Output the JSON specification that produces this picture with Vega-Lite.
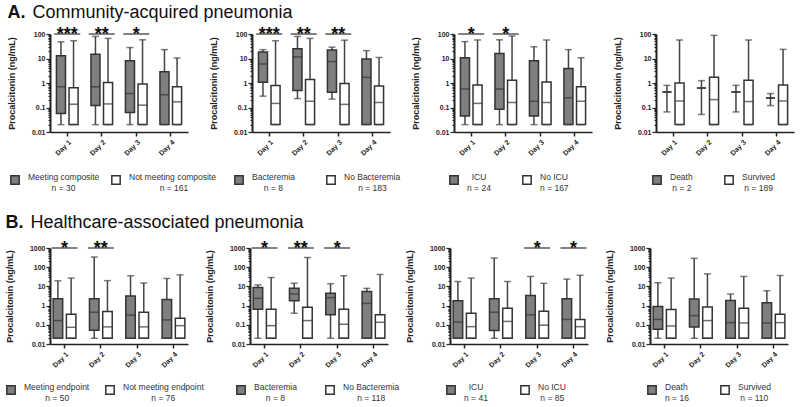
{
  "$schema": "https://vega.github.io/schema/vega-lite/v6.json",
  "padding": {"left": 5, "top": 4, "right": 2, "bottom": 2},
  "background": "white",
  "config": {
    "font": "Liberation Sans",
    "view": {"stroke": null},
    "axis": {"grid": false, "domainColor": "#222", "tickColor": "#222", "labelColor": "#222", "titleColor": "#222", "labelFont": "Liberation Sans", "titleFont": "Liberation Sans"},
    "axisX": {"labelAngle": -45, "labelFontSize": 7, "labelFontWeight": "bold", "domainWidth": 1.5, "tickSize": 4, "tickWidth": 1.5, "labelPadding": 2},
    "axisY": {"labelFontSize": 7, "labelFontWeight": "bold", "titleFontSize": 9, "titleFontWeight": "bold", "titlePadding": 15, "domainWidth": 2, "tickWidth": 1.2, "labelPadding": 1},
    "bar": {"stroke": "#333", "strokeWidth": 1.5},
    "rule": {"color": "#444", "strokeWidth": 1.5},
    "tick": {"color": "#333", "thickness": 1.5},
    "legend": {"symbolType": "square", "symbolSize": 70, "symbolStrokeColor": "#333", "symbolStrokeWidth": 1.5, "labelFontSize": 8.5, "labelColor": "#333", "labelFont": "Liberation Sans", "labelOffset": 8, "labelBaseline": "alphabetic", "direction": "horizontal", "orient": "none", "padding": 0, "labelLimit": 250},
    "title": {"font": "Liberation Sans", "anchor": "start", "color": "#111"}
  },
  "datasets": {
    "A1": [
      {"day": "Day 1", "group": "Meeting composite", "min": 0.02, "q1": 0.057, "median": 0.7, "q3": 13, "max": 48},
      {"day": "Day 1", "group": "Not meeting composite", "min": 0.02, "q1": 0.02, "median": 0.136, "q3": 0.64, "max": 53},
      {"day": "Day 2", "group": "Meeting composite", "min": 0.02, "q1": 0.12, "median": 0.7, "q3": 15, "max": 80},
      {"day": "Day 2", "group": "Not meeting composite", "min": 0.02, "q1": 0.02, "median": 0.14, "q3": 1.05, "max": 66},
      {"day": "Day 3", "group": "Meeting composite", "min": 0.02, "q1": 0.063, "median": 0.37, "q3": 8.1, "max": 28},
      {"day": "Day 3", "group": "Not meeting composite", "min": 0.02, "q1": 0.02, "median": 0.125, "q3": 0.9, "max": 58},
      {"day": "Day 4", "group": "Meeting composite", "min": 0.02, "q1": 0.02, "median": 0.33, "q3": 2.9, "max": 23},
      {"day": "Day 4", "group": "Not meeting composite", "min": 0.02, "q1": 0.02, "median": 0.17, "q3": 0.7, "max": 10.5}
    ],
    "A2": [
      {"day": "Day 1", "group": "Bacteremia", "min": 0.29, "q1": 1.07, "median": 6, "q3": 18.5, "max": 23},
      {"day": "Day 1", "group": "No Bacteremia", "min": 0.02, "q1": 0.02, "median": 0.147, "q3": 0.79, "max": 53},
      {"day": "Day 2", "group": "Bacteremia", "min": 0.23, "q1": 0.5, "median": 11.6, "q3": 25, "max": 80},
      {"day": "Day 2", "group": "No Bacteremia", "min": 0.02, "q1": 0.02, "median": 0.18, "q3": 1.38, "max": 66},
      {"day": "Day 3", "group": "Bacteremia", "min": 0.22, "q1": 0.42, "median": 7.5, "q3": 22, "max": 29},
      {"day": "Day 3", "group": "No Bacteremia", "min": 0.02, "q1": 0.02, "median": 0.134, "q3": 0.95, "max": 56},
      {"day": "Day 4", "group": "Bacteremia", "min": 0.02, "q1": 0.02, "median": 1.7, "q3": 9.6, "max": 21},
      {"day": "Day 4", "group": "No Bacteremia", "min": 0.02, "q1": 0.02, "median": 0.16, "q3": 0.75, "max": 11}
    ],
    "A3": [
      {"day": "Day 1", "group": "ICU", "min": 0.02, "q1": 0.045, "median": 0.57, "q3": 10.7, "max": 49},
      {"day": "Day 1", "group": "No ICU", "min": 0.02, "q1": 0.02, "median": 0.147, "q3": 0.83, "max": 57},
      {"day": "Day 2", "group": "ICU", "min": 0.02, "q1": 0.085, "median": 0.57, "q3": 16, "max": 58},
      {"day": "Day 2", "group": "No ICU", "min": 0.02, "q1": 0.02, "median": 0.16, "q3": 1.3, "max": 83},
      {"day": "Day 3", "group": "ICU", "min": 0.02, "q1": 0.045, "median": 0.18, "q3": 8, "max": 30},
      {"day": "Day 3", "group": "No ICU", "min": 0.02, "q1": 0.02, "median": 0.16, "q3": 1.1, "max": 57},
      {"day": "Day 4", "group": "ICU", "min": 0.02, "q1": 0.02, "median": 0.25, "q3": 3.9, "max": 23},
      {"day": "Day 4", "group": "No ICU", "min": 0.02, "q1": 0.02, "median": 0.18, "q3": 0.7, "max": 10.8}
    ],
    "A4": [
      {"day": "Day 1", "group": "Death", "min": 0.066, "q1": 0.43, "median": 0.43, "q3": 0.43, "max": 0.8},
      {"day": "Day 1", "group": "Survived", "min": 0.02, "q1": 0.02, "median": 0.185, "q3": 1.0, "max": 57},
      {"day": "Day 2", "group": "Death", "min": 0.052, "q1": 0.62, "median": 0.62, "q3": 0.62, "max": 1.25},
      {"day": "Day 2", "group": "Survived", "min": 0.02, "q1": 0.02, "median": 0.21, "q3": 1.7, "max": 88},
      {"day": "Day 3", "group": "Death", "min": 0.066, "q1": 0.43, "median": 0.43, "q3": 0.43, "max": 0.8},
      {"day": "Day 3", "group": "Survived", "min": 0.02, "q1": 0.02, "median": 0.175, "q3": 1.28, "max": 57},
      {"day": "Day 4", "group": "Death", "min": 0.12, "q1": 0.245, "median": 0.245, "q3": 0.245, "max": 0.37},
      {"day": "Day 4", "group": "Survived", "min": 0.02, "q1": 0.02, "median": 0.185, "q3": 0.82, "max": 23.6}
    ],
    "B1": [
      {"day": "Day 1", "group": "Meeting endpoint", "min": 0.02, "q1": 0.02, "median": 0.166, "q3": 2.3, "max": 19.5},
      {"day": "Day 1", "group": "Not meeting endpoint", "min": 0.02, "q1": 0.02, "median": 0.074, "q3": 0.35, "max": 27},
      {"day": "Day 2", "group": "Meeting endpoint", "min": 0.02, "q1": 0.052, "median": 0.45, "q3": 2.3, "max": 340},
      {"day": "Day 2", "group": "Not meeting endpoint", "min": 0.02, "q1": 0.02, "median": 0.078, "q3": 0.5, "max": 20},
      {"day": "Day 3", "group": "Meeting endpoint", "min": 0.02, "q1": 0.02, "median": 0.32, "q3": 3.2, "max": 36},
      {"day": "Day 3", "group": "Not meeting endpoint", "min": 0.02, "q1": 0.02, "median": 0.078, "q3": 0.45, "max": 15},
      {"day": "Day 4", "group": "Meeting endpoint", "min": 0.02, "q1": 0.02, "median": 0.18, "q3": 2.1, "max": 26},
      {"day": "Day 4", "group": "Not meeting endpoint", "min": 0.02, "q1": 0.02, "median": 0.09, "q3": 0.22, "max": 40}
    ],
    "B2": [
      {"day": "Day 1", "group": "Bacteremia", "min": 0.02, "q1": 0.65, "median": 2.4, "q3": 8.8, "max": 12},
      {"day": "Day 1", "group": "No Bacteremia", "min": 0.02, "q1": 0.02, "median": 0.09, "q3": 0.65, "max": 29},
      {"day": "Day 2", "group": "Bacteremia", "min": 0.4, "q1": 1.8, "median": 4, "q3": 8.1, "max": 14.6},
      {"day": "Day 2", "group": "No Bacteremia", "min": 0.02, "q1": 0.02, "median": 0.166, "q3": 0.83, "max": 320},
      {"day": "Day 3", "group": "Bacteremia", "min": 0.02, "q1": 0.33, "median": 2.6, "q3": 4.4, "max": 13.8},
      {"day": "Day 3", "group": "No Bacteremia", "min": 0.02, "q1": 0.02, "median": 0.107, "q3": 0.65, "max": 36},
      {"day": "Day 4", "group": "Bacteremia", "min": 0.02, "q1": 0.02, "median": 1.3, "q3": 5.5, "max": 7.9},
      {"day": "Day 4", "group": "No Bacteremia", "min": 0.02, "q1": 0.02, "median": 0.135, "q3": 0.33, "max": 42}
    ],
    "B3": [
      {"day": "Day 1", "group": "ICU", "min": 0.02, "q1": 0.02, "median": 0.14, "q3": 1.8, "max": 18},
      {"day": "Day 1", "group": "No ICU", "min": 0.02, "q1": 0.02, "median": 0.08, "q3": 0.4, "max": 27},
      {"day": "Day 2", "group": "ICU", "min": 0.02, "q1": 0.05, "median": 0.45, "q3": 2.3, "max": 300},
      {"day": "Day 2", "group": "No ICU", "min": 0.02, "q1": 0.02, "median": 0.15, "q3": 0.72, "max": 18},
      {"day": "Day 3", "group": "ICU", "min": 0.02, "q1": 0.02, "median": 0.33, "q3": 3.4, "max": 33},
      {"day": "Day 3", "group": "No ICU", "min": 0.02, "q1": 0.02, "median": 0.095, "q3": 0.51, "max": 14.5},
      {"day": "Day 4", "group": "ICU", "min": 0.02, "q1": 0.02, "median": 0.19, "q3": 2.3, "max": 24},
      {"day": "Day 4", "group": "No ICU", "min": 0.02, "q1": 0.02, "median": 0.08, "q3": 0.19, "max": 38}
    ],
    "B4": [
      {"day": "Day 1", "group": "Death", "min": 0.02, "q1": 0.059, "median": 0.19, "q3": 0.9, "max": 15.5},
      {"day": "Day 1", "group": "Survived", "min": 0.02, "q1": 0.02, "median": 0.087, "q3": 0.63, "max": 27},
      {"day": "Day 2", "group": "Death", "min": 0.02, "q1": 0.077, "median": 0.3, "q3": 2.2, "max": 290},
      {"day": "Day 2", "group": "Survived", "min": 0.02, "q1": 0.02, "median": 0.166, "q3": 0.85, "max": 45},
      {"day": "Day 3", "group": "Death", "min": 0.02, "q1": 0.02, "median": 0.13, "q3": 1.85, "max": 4},
      {"day": "Day 3", "group": "Survived", "min": 0.02, "q1": 0.02, "median": 0.125, "q3": 0.72, "max": 33},
      {"day": "Day 4", "group": "Death", "min": 0.02, "q1": 0.02, "median": 0.125, "q3": 1.4, "max": 5.9},
      {"day": "Day 4", "group": "Survived", "min": 0.02, "q1": 0.02, "median": 0.13, "q3": 0.35, "max": 37}
    ],
    "A1s": [{"day": "Day 1", "stars": "***"}, {"day": "Day 2", "stars": "**"}, {"day": "Day 3", "stars": "*"}],
    "A2s": [{"day": "Day 1", "stars": "***"}, {"day": "Day 2", "stars": "**"}, {"day": "Day 3", "stars": "**"}],
    "A3s": [{"day": "Day 1", "stars": "*"}, {"day": "Day 2", "stars": "*"}],
    "B1s": [{"day": "Day 1", "stars": "*"}, {"day": "Day 2", "stars": "**"}],
    "B2s": [{"day": "Day 1", "stars": "*"}, {"day": "Day 2", "stars": "**"}, {"day": "Day 3", "stars": "*"}],
    "B3s": [{"day": "Day 3", "stars": "*"}, {"day": "Day 4", "stars": "*"}]
  },
  "vconcat": [
    {
      "title": {"text": "A.", "subtitle": "\u200b\u00a0\u00a0\u00a0\u00a0\u00a0Community-acquired pneumonia", "fontSize": 18, "fontWeight": "bold", "subtitleFontSize": 18, "subtitleFontWeight": "normal", "subtitleColor": "#111", "subtitleFont": "Liberation Sans", "subtitlePadding": -18, "offset": 4},
      "bounds": "flush",
      "spacing": 64,
      "resolve": {"scale": {"x": "independent", "y": "independent", "xOffset": "independent", "fill": "independent"}, "legend": {"fill": "independent"}},
      "hconcat": [
        {
          "width": 138, "height": 98,
          "encoding": {"x": {"field": "day", "type": "nominal", "title": null, "scale": {"paddingInner": 0.3, "paddingOuter": 0.15}}},
          "layer": [
            {
              "data": {"name": "A1"},
              "encoding": {"xOffset": {"field": "group", "type": "nominal", "scale": {"domain": ["Meeting composite", "Not meeting composite"], "paddingInner": 0.28, "paddingOuter": 0.1}}},
              "layer": [
                {"mark": "rule", "encoding": {"y": {"field": "min", "type": "quantitative", "title": "Procalcitonin (ng/mL)", "scale": {"type": "log", "domain": [0.01, 100]}, "axis": {"values": [0.01,0.02,0.03,0.04,0.05,0.06,0.07,0.08,0.09,0.1,0.2,0.3,0.4,0.5,0.6,0.7,0.8,0.9,1,2,3,4,5,6,7,8,9,10,20,30,40,50,60,70,80,90,100], "labelExpr": "indexof([0.01,0.1,1,10,100,1000], datum.value) >= 0 ? '' + datum.value : ''", "tickSize": {"condition": {"test": "indexof([0.01,0.1,1,10,100,1000], datum.value) >= 0", "value": 4}, "value": 2}}}, "y2": {"field": "max"}}},
                {"mark": "bar", "encoding": {"y": {"field": "q1", "type": "quantitative"}, "y2": {"field": "q3"}, "fill": {"field": "group", "type": "nominal", "scale": {"domain": ["Meeting composite", "Not meeting composite"], "range": ["#7f7f7f", "#ffffff"]}, "legend": {"title": null, "legendX": -40, "legendY": 141, "columnPadding": 8, "labelExpr": "datum.label == 'Meeting composite' ? ['Meeting composite', '\u200b\u00a0\u00a0\u00a0\u00a0\u00a0\u00a0\u00a0\u00a0\u00a0\u00a0n = 30'] : ['Not meeting composite', '\u200b\u00a0\u00a0\u00a0\u00a0\u00a0\u00a0\u00a0\u00a0\u00a0\u00a0\u00a0\u00a0\u00a0n = 161']"}}}},
                {"mark": {"type": "tick", "orient": "horizontal", "size": 9}, "encoding": {"y": {"field": "median", "type": "quantitative"}}},
                {"mark": {"type": "tick", "orient": "horizontal", "size": 7, "color": "#444"}, "encoding": {"y": {"field": "min", "type": "quantitative"}}},
                {"mark": {"type": "tick", "orient": "horizontal", "size": 7, "color": "#444"}, "encoding": {"y": {"field": "max", "type": "quantitative"}}}
              ]
            },
            {"data": {"name": "A1s"}, "mark": {"type": "tick", "orient": "horizontal", "size": 26, "thickness": 1.5, "color": "#111"}, "encoding": {"y": {"datum": 100, "type": "quantitative"}}},
            {"data": {"name": "A1s"}, "mark": {"type": "text", "fontSize": 18, "fontWeight": "bold", "dy": 6, "baseline": "alphabetic", "color": "#111"}, "encoding": {"y": {"datum": 100, "type": "quantitative"}, "text": {"field": "stars"}}}
          ]
        },
        {
          "width": 138, "height": 98,
          "encoding": {"x": {"field": "day", "type": "nominal", "title": null, "scale": {"paddingInner": 0.3, "paddingOuter": 0.15}}},
          "layer": [
            {
              "data": {"name": "A2"},
              "encoding": {"xOffset": {"field": "group", "type": "nominal", "scale": {"domain": ["Bacteremia", "No Bacteremia"], "paddingInner": 0.28, "paddingOuter": 0.1}}},
              "layer": [
                {"mark": "rule", "encoding": {"y": {"field": "min", "type": "quantitative", "title": "Procalcitonin (ng/mL)", "scale": {"type": "log", "domain": [0.01, 100]}, "axis": {"values": [0.01,0.02,0.03,0.04,0.05,0.06,0.07,0.08,0.09,0.1,0.2,0.3,0.4,0.5,0.6,0.7,0.8,0.9,1,2,3,4,5,6,7,8,9,10,20,30,40,50,60,70,80,90,100], "labelExpr": "indexof([0.01,0.1,1,10,100,1000], datum.value) >= 0 ? '' + datum.value : ''", "tickSize": {"condition": {"test": "indexof([0.01,0.1,1,10,100,1000], datum.value) >= 0", "value": 4}, "value": 2}}}, "y2": {"field": "max"}}},
                {"mark": "bar", "encoding": {"y": {"field": "q1", "type": "quantitative"}, "y2": {"field": "q3"}, "fill": {"field": "group", "type": "nominal", "scale": {"domain": ["Bacteremia", "No Bacteremia"], "range": ["#7f7f7f", "#ffffff"]}, "legend": {"title": null, "legendX": -18, "legendY": 141, "columnPadding": 28, "labelExpr": "datum.label == 'Bacteremia' ? ['Bacteremia', '\u200b\u00a0\u00a0\u00a0\u00a0\u00a0n = 8'] : ['No Bacteremia', '\u200b\u00a0\u00a0\u00a0\u00a0\u00a0\u00a0n = 183']"}}}},
                {"mark": {"type": "tick", "orient": "horizontal", "size": 9}, "encoding": {"y": {"field": "median", "type": "quantitative"}}},
                {"mark": {"type": "tick", "orient": "horizontal", "size": 7, "color": "#444"}, "encoding": {"y": {"field": "min", "type": "quantitative"}}},
                {"mark": {"type": "tick", "orient": "horizontal", "size": 7, "color": "#444"}, "encoding": {"y": {"field": "max", "type": "quantitative"}}}
              ]
            },
            {"data": {"name": "A2s"}, "mark": {"type": "tick", "orient": "horizontal", "size": 26, "thickness": 1.5, "color": "#111"}, "encoding": {"y": {"datum": 100, "type": "quantitative"}}},
            {"data": {"name": "A2s"}, "mark": {"type": "text", "fontSize": 18, "fontWeight": "bold", "dy": 6, "baseline": "alphabetic", "color": "#111"}, "encoding": {"y": {"datum": 100, "type": "quantitative"}, "text": {"field": "stars"}}}
          ]
        },
        {
          "width": 138, "height": 98,
          "encoding": {"x": {"field": "day", "type": "nominal", "title": null, "scale": {"paddingInner": 0.3, "paddingOuter": 0.15}}},
          "layer": [
            {
              "data": {"name": "A3"},
              "encoding": {"xOffset": {"field": "group", "type": "nominal", "scale": {"domain": ["ICU", "No ICU"], "paddingInner": 0.28, "paddingOuter": 0.1}}},
              "layer": [
                {"mark": "rule", "encoding": {"y": {"field": "min", "type": "quantitative", "title": "Procalcitonin (ng/mL)", "scale": {"type": "log", "domain": [0.01, 100]}, "axis": {"values": [0.01,0.02,0.03,0.04,0.05,0.06,0.07,0.08,0.09,0.1,0.2,0.3,0.4,0.5,0.6,0.7,0.8,0.9,1,2,3,4,5,6,7,8,9,10,20,30,40,50,60,70,80,90,100], "labelExpr": "indexof([0.01,0.1,1,10,100,1000], datum.value) >= 0 ? '' + datum.value : ''", "tickSize": {"condition": {"test": "indexof([0.01,0.1,1,10,100,1000], datum.value) >= 0", "value": 4}, "value": 2}}}, "y2": {"field": "max"}}},
                {"mark": "bar", "encoding": {"y": {"field": "q1", "type": "quantitative"}, "y2": {"field": "q3"}, "fill": {"field": "group", "type": "nominal", "scale": {"domain": ["ICU", "No ICU"], "range": ["#7f7f7f", "#ffffff"]}, "legend": {"title": null, "legendX": -5, "legendY": 141, "columnPadding": 28, "labelExpr": "datum.label == 'ICU' ? ['\u200b\u00a0\u00a0ICU', 'n = 24'] : ['No ICU', 'n = 167']"}}}},
                {"mark": {"type": "tick", "orient": "horizontal", "size": 9}, "encoding": {"y": {"field": "median", "type": "quantitative"}}},
                {"mark": {"type": "tick", "orient": "horizontal", "size": 7, "color": "#444"}, "encoding": {"y": {"field": "min", "type": "quantitative"}}},
                {"mark": {"type": "tick", "orient": "horizontal", "size": 7, "color": "#444"}, "encoding": {"y": {"field": "max", "type": "quantitative"}}}
              ]
            },
            {"data": {"name": "A3s"}, "mark": {"type": "tick", "orient": "horizontal", "size": 26, "thickness": 1.5, "color": "#111"}, "encoding": {"y": {"datum": 100, "type": "quantitative"}}},
            {"data": {"name": "A3s"}, "mark": {"type": "text", "fontSize": 18, "fontWeight": "bold", "dy": 6, "baseline": "alphabetic", "color": "#111"}, "encoding": {"y": {"datum": 100, "type": "quantitative"}, "text": {"field": "stars"}}}
          ]
        },
        {
          "width": 138, "height": 98,
          "encoding": {"x": {"field": "day", "type": "nominal", "title": null, "scale": {"paddingInner": 0.3, "paddingOuter": 0.15}}},
          "layer": [
            {
              "data": {"name": "A4"},
              "encoding": {"xOffset": {"field": "group", "type": "nominal", "scale": {"domain": ["Death", "Survived"], "paddingInner": 0.28, "paddingOuter": 0.1}}},
              "layer": [
                {"mark": "rule", "encoding": {"y": {"field": "min", "type": "quantitative", "title": "Procalcitonin (ng/mL)", "scale": {"type": "log", "domain": [0.01, 100]}, "axis": {"values": [0.01,0.02,0.03,0.04,0.05,0.06,0.07,0.08,0.09,0.1,0.2,0.3,0.4,0.5,0.6,0.7,0.8,0.9,1,2,3,4,5,6,7,8,9,10,20,30,40,50,60,70,80,90,100], "labelExpr": "indexof([0.01,0.1,1,10,100,1000], datum.value) >= 0 ? '' + datum.value : ''", "tickSize": {"condition": {"test": "indexof([0.01,0.1,1,10,100,1000], datum.value) >= 0", "value": 4}, "value": 2}}}, "y2": {"field": "max"}}},
                {"mark": "bar", "encoding": {"y": {"field": "q1", "type": "quantitative"}, "y2": {"field": "q3"}, "fill": {"field": "group", "type": "nominal", "scale": {"domain": ["Death", "Survived"], "range": ["#7f7f7f", "#ffffff"]}, "legend": {"title": null, "legendX": -4, "legendY": 141, "columnPadding": 28, "labelExpr": "datum.label == 'Death' ? ['Death', '\u200b\u00a0n = 2'] : ['Survived', '\u200b\u00a0n = 189']"}}}},
                {"mark": {"type": "tick", "orient": "horizontal", "size": 9}, "encoding": {"y": {"field": "median", "type": "quantitative"}}},
                {"mark": {"type": "tick", "orient": "horizontal", "size": 7, "color": "#444"}, "encoding": {"y": {"field": "min", "type": "quantitative"}}},
                {"mark": {"type": "tick", "orient": "horizontal", "size": 7, "color": "#444"}, "encoding": {"y": {"field": "max", "type": "quantitative"}}}
              ]
            }
          ]
        }
      ]
    },
    {
      "title": {"text": "B.", "subtitle": "\u200b\u00a0\u00a0\u00a0\u00a0\u00a0Healthcare-associated pneumonia", "fontSize": 18, "fontWeight": "bold", "subtitleFontSize": 18, "subtitleFontWeight": "normal", "subtitleColor": "#111", "subtitleFont": "Liberation Sans", "subtitlePadding": -18, "offset": 8},
      "bounds": "flush",
      "spacing": 62,
      "resolve": {"scale": {"x": "independent", "y": "independent", "xOffset": "independent", "fill": "independent"}, "legend": {"fill": "independent"}},
      "hconcat": [
        {
          "width": 138, "height": 96,
          "encoding": {"x": {"field": "day", "type": "nominal", "title": null, "scale": {"paddingInner": 0.3, "paddingOuter": 0.05}}},
          "layer": [
            {
              "data": {"name": "B1"},
              "encoding": {"xOffset": {"field": "group", "type": "nominal", "scale": {"domain": ["Meeting endpoint", "Not meeting endpoint"], "paddingInner": 0.28, "paddingOuter": 0.1}}},
              "layer": [
                {"mark": "rule", "encoding": {"y": {"field": "min", "type": "quantitative", "title": "Procalcitonin (ng/mL)", "scale": {"type": "log", "domain": [0.01, 1000]}, "axis": {"values": [0.01,0.02,0.03,0.04,0.05,0.06,0.07,0.08,0.09,0.1,0.2,0.3,0.4,0.5,0.6,0.7,0.8,0.9,1,2,3,4,5,6,7,8,9,10,20,30,40,50,60,70,80,90,100,200,300,400,500,600,700,800,900,1000], "labelExpr": "indexof([0.01,0.1,1,10,100,1000], datum.value) >= 0 ? '' + datum.value : ''", "tickSize": {"condition": {"test": "indexof([0.01,0.1,1,10,100,1000], datum.value) >= 0", "value": 4}, "value": 2}}}, "y2": {"field": "max"}}},
                {"mark": "bar", "encoding": {"y": {"field": "q1", "type": "quantitative"}, "y2": {"field": "q3"}, "fill": {"field": "group", "type": "nominal", "scale": {"domain": ["Meeting endpoint", "Not meeting endpoint"], "range": ["#7f7f7f", "#ffffff"]}, "legend": {"title": null, "legendX": -44, "legendY": 137, "columnPadding": 12, "labelExpr": "datum.label == 'Meeting endpoint' ? ['Meeting endpoint', '\u200b\u00a0\u00a0\u00a0\u00a0\u00a0\u00a0\u00a0\u00a0\u00a0n = 50'] : ['Not meeting endpoint', '\u200b\u00a0\u00a0\u00a0\u00a0\u00a0\u00a0\u00a0\u00a0\u00a0\u00a0\u00a0\u00a0n = 76']"}}}},
                {"mark": {"type": "tick", "orient": "horizontal", "size": 9}, "encoding": {"y": {"field": "median", "type": "quantitative"}}},
                {"mark": {"type": "tick", "orient": "horizontal", "size": 7, "color": "#444"}, "encoding": {"y": {"field": "min", "type": "quantitative"}}},
                {"mark": {"type": "tick", "orient": "horizontal", "size": 7, "color": "#444"}, "encoding": {"y": {"field": "max", "type": "quantitative"}}}
              ]
            },
            {"data": {"name": "B1s"}, "mark": {"type": "tick", "orient": "horizontal", "size": 26, "thickness": 1.5, "color": "#111"}, "encoding": {"y": {"datum": 1000, "type": "quantitative"}}},
            {"data": {"name": "B1s"}, "mark": {"type": "text", "fontSize": 18, "fontWeight": "bold", "dy": 6, "baseline": "alphabetic", "color": "#111"}, "encoding": {"y": {"datum": 1000, "type": "quantitative"}, "text": {"field": "stars"}}}
          ]
        },
        {
          "width": 138, "height": 96,
          "encoding": {"x": {"field": "day", "type": "nominal", "title": null, "scale": {"paddingInner": 0.3, "paddingOuter": 0.05}}},
          "layer": [
            {
              "data": {"name": "B2"},
              "encoding": {"xOffset": {"field": "group", "type": "nominal", "scale": {"domain": ["Bacteremia", "No Bacteremia"], "paddingInner": 0.28, "paddingOuter": 0.1}}},
              "layer": [
                {"mark": "rule", "encoding": {"y": {"field": "min", "type": "quantitative", "title": "Procalcitonin (ng/mL)", "scale": {"type": "log", "domain": [0.01, 1000]}, "axis": {"values": [0.01,0.02,0.03,0.04,0.05,0.06,0.07,0.08,0.09,0.1,0.2,0.3,0.4,0.5,0.6,0.7,0.8,0.9,1,2,3,4,5,6,7,8,9,10,20,30,40,50,60,70,80,90,100,200,300,400,500,600,700,800,900,1000], "labelExpr": "indexof([0.01,0.1,1,10,100,1000], datum.value) >= 0 ? '' + datum.value : ''", "tickSize": {"condition": {"test": "indexof([0.01,0.1,1,10,100,1000], datum.value) >= 0", "value": 4}, "value": 2}}}, "y2": {"field": "max"}}},
                {"mark": "bar", "encoding": {"y": {"field": "q1", "type": "quantitative"}, "y2": {"field": "q3"}, "fill": {"field": "group", "type": "nominal", "scale": {"domain": ["Bacteremia", "No Bacteremia"], "range": ["#7f7f7f", "#ffffff"]}, "legend": {"title": null, "legendX": -14, "legendY": 137, "columnPadding": 25, "labelExpr": "datum.label == 'Bacteremia' ? ['Bacteremia', '\u200b\u00a0\u00a0\u00a0\u00a0\u00a0n = 8'] : ['No Bacteremia', '\u200b\u00a0\u00a0\u00a0\u00a0\u00a0\u00a0n = 118']"}}}},
                {"mark": {"type": "tick", "orient": "horizontal", "size": 9}, "encoding": {"y": {"field": "median", "type": "quantitative"}}},
                {"mark": {"type": "tick", "orient": "horizontal", "size": 7, "color": "#444"}, "encoding": {"y": {"field": "min", "type": "quantitative"}}},
                {"mark": {"type": "tick", "orient": "horizontal", "size": 7, "color": "#444"}, "encoding": {"y": {"field": "max", "type": "quantitative"}}}
              ]
            },
            {"data": {"name": "B2s"}, "mark": {"type": "tick", "orient": "horizontal", "size": 26, "thickness": 1.5, "color": "#111"}, "encoding": {"y": {"datum": 1000, "type": "quantitative"}}},
            {"data": {"name": "B2s"}, "mark": {"type": "text", "fontSize": 18, "fontWeight": "bold", "dy": 6, "baseline": "alphabetic", "color": "#111"}, "encoding": {"y": {"datum": 1000, "type": "quantitative"}, "text": {"field": "stars"}}}
          ]
        },
        {
          "width": 138, "height": 96,
          "encoding": {"x": {"field": "day", "type": "nominal", "title": null, "scale": {"paddingInner": 0.3, "paddingOuter": 0.05}}},
          "layer": [
            {
              "data": {"name": "B3"},
              "encoding": {"xOffset": {"field": "group", "type": "nominal", "scale": {"domain": ["ICU", "No ICU"], "paddingInner": 0.28, "paddingOuter": 0.1}}},
              "layer": [
                {"mark": "rule", "encoding": {"y": {"field": "min", "type": "quantitative", "title": "Procalcitonin (ng/mL)", "scale": {"type": "log", "domain": [0.01, 1000]}, "axis": {"values": [0.01,0.02,0.03,0.04,0.05,0.06,0.07,0.08,0.09,0.1,0.2,0.3,0.4,0.5,0.6,0.7,0.8,0.9,1,2,3,4,5,6,7,8,9,10,20,30,40,50,60,70,80,90,100,200,300,400,500,600,700,800,900,1000], "labelExpr": "indexof([0.01,0.1,1,10,100,1000], datum.value) >= 0 ? '' + datum.value : ''", "tickSize": {"condition": {"test": "indexof([0.01,0.1,1,10,100,1000], datum.value) >= 0", "value": 4}, "value": 2}}}, "y2": {"field": "max"}}},
                {"mark": "bar", "encoding": {"y": {"field": "q1", "type": "quantitative"}, "y2": {"field": "q3"}, "fill": {"field": "group", "type": "nominal", "scale": {"domain": ["ICU", "No ICU"], "range": ["#7f7f7f", "#ffffff"]}, "legend": {"title": null, "legendX": -4, "legendY": 137, "columnPadding": 29, "labelExpr": "datum.label == 'ICU' ? ['\u200b\u00a0\u00a0ICU', 'n = 41'] : ['No ICU', '\u200b\u00a0n = 85']"}}}},
                {"mark": {"type": "tick", "orient": "horizontal", "size": 9}, "encoding": {"y": {"field": "median", "type": "quantitative"}}},
                {"mark": {"type": "tick", "orient": "horizontal", "size": 7, "color": "#444"}, "encoding": {"y": {"field": "min", "type": "quantitative"}}},
                {"mark": {"type": "tick", "orient": "horizontal", "size": 7, "color": "#444"}, "encoding": {"y": {"field": "max", "type": "quantitative"}}}
              ]
            },
            {"data": {"name": "B3s"}, "mark": {"type": "tick", "orient": "horizontal", "size": 26, "thickness": 1.5, "color": "#111"}, "encoding": {"y": {"datum": 1000, "type": "quantitative"}}},
            {"data": {"name": "B3s"}, "mark": {"type": "text", "fontSize": 18, "fontWeight": "bold", "dy": 6, "baseline": "alphabetic", "color": "#111"}, "encoding": {"y": {"datum": 1000, "type": "quantitative"}, "text": {"field": "stars"}}}
          ]
        },
        {
          "width": 138, "height": 96,
          "encoding": {"x": {"field": "day", "type": "nominal", "title": null, "scale": {"paddingInner": 0.3, "paddingOuter": 0.05}}},
          "layer": [
            {
              "data": {"name": "B4"},
              "encoding": {"xOffset": {"field": "group", "type": "nominal", "scale": {"domain": ["Death", "Survived"], "paddingInner": 0.28, "paddingOuter": 0.1}}},
              "layer": [
                {"mark": "rule", "encoding": {"y": {"field": "min", "type": "quantitative", "title": "Procalcitonin (ng/mL)", "scale": {"type": "log", "domain": [0.01, 1000]}, "axis": {"values": [0.01,0.02,0.03,0.04,0.05,0.06,0.07,0.08,0.09,0.1,0.2,0.3,0.4,0.5,0.6,0.7,0.8,0.9,1,2,3,4,5,6,7,8,9,10,20,30,40,50,60,70,80,90,100,200,300,400,500,600,700,800,900,1000], "labelExpr": "indexof([0.01,0.1,1,10,100,1000], datum.value) >= 0 ? '' + datum.value : ''", "tickSize": {"condition": {"test": "indexof([0.01,0.1,1,10,100,1000], datum.value) >= 0", "value": 4}, "value": 2}}}, "y2": {"field": "max"}}},
                {"mark": "bar", "encoding": {"y": {"field": "q1", "type": "quantitative"}, "y2": {"field": "q3"}, "fill": {"field": "group", "type": "nominal", "scale": {"domain": ["Death", "Survived"], "range": ["#7f7f7f", "#ffffff"]}, "legend": {"title": null, "legendX": -3, "legendY": 137, "columnPadding": 28, "labelExpr": "datum.label == 'Death' ? ['Death', 'n = 16'] : ['Survived', '\u200b\u00a0n = 110']"}}}},
                {"mark": {"type": "tick", "orient": "horizontal", "size": 9}, "encoding": {"y": {"field": "median", "type": "quantitative"}}},
                {"mark": {"type": "tick", "orient": "horizontal", "size": 7, "color": "#444"}, "encoding": {"y": {"field": "min", "type": "quantitative"}}},
                {"mark": {"type": "tick", "orient": "horizontal", "size": 7, "color": "#444"}, "encoding": {"y": {"field": "max", "type": "quantitative"}}}
              ]
            }
          ]
        }
      ]
    }
  ],
  "spacing": 22
}
